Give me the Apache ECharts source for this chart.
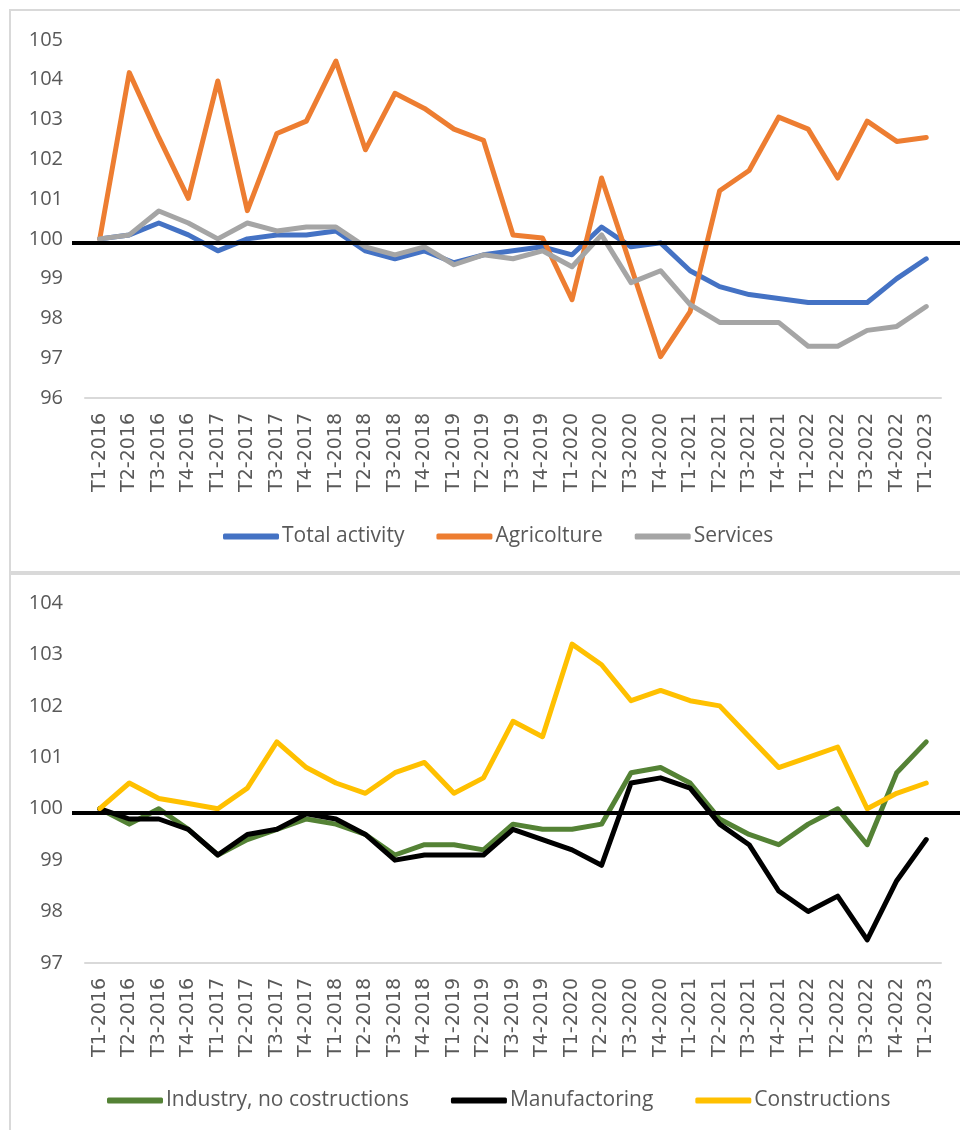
<!DOCTYPE html>
<html>
<head>
<meta charset="utf-8">
<script src="https://cdn.jsdelivr.net/npm/echarts@6/dist/echarts.min.js"></script>
<style>
html,body{margin:0;padding:0;background:#fff;}
#chart{width:960px;height:1130px;}
</style>
</head>
<body>
<div id="chart"></div>
<script>
const categories = ['T1-2016','T2-2016','T3-2016','T4-2016','T1-2017','T2-2017','T3-2017','T4-2017',
  'T1-2018','T2-2018','T3-2018','T4-2018','T1-2019','T2-2019','T3-2019','T4-2019',
  'T1-2020','T2-2020','T3-2020','T4-2020','T1-2021','T2-2021','T3-2021','T4-2021',
  'T1-2022','T2-2022','T3-2022','T4-2022','T1-2023'];

const totalActivity = [100,100.1,100.4,100.1,99.7,100.0,100.1,100.1,100.2,99.7,99.5,99.7,99.4,99.6,99.7,99.8,99.6,100.3,99.8,99.9,99.2,98.8,98.6,98.5,98.4,98.4,98.4,99.0,99.5];
const agricolture = [100,104.18,102.55,101.02,103.97,100.71,102.65,102.96,104.47,102.24,103.66,103.28,102.76,102.48,100.1,100.02,98.47,101.53,99.3,97.04,98.17,101.21,101.72,103.06,102.76,101.53,102.96,102.45,102.55];
const services = [100,100.1,100.7,100.4,100.0,100.4,100.2,100.3,100.3,99.8,99.6,99.8,99.35,99.6,99.5,99.7,99.3,100.1,98.9,99.2,98.35,97.9,97.9,97.9,97.3,97.3,97.7,97.8,98.3];

const industry = [100,99.7,100.0,99.6,99.1,99.4,99.6,99.8,99.7,99.5,99.1,99.3,99.3,99.2,99.7,99.6,99.6,99.7,100.7,100.8,100.5,99.8,99.5,99.3,99.7,100.0,99.3,100.7,101.3];
const manufactoring = [100,99.8,99.8,99.6,99.1,99.5,99.6,99.9,99.8,99.5,99.0,99.1,99.1,99.1,99.6,99.4,99.2,98.9,100.5,100.6,100.4,99.7,99.3,98.4,98.0,98.3,97.45,98.6,99.4];
const constructions = [100,100.5,100.2,100.1,100.0,100.4,101.3,100.8,100.5,100.3,100.7,100.9,100.3,100.6,101.7,101.4,103.2,102.8,102.1,102.3,102.1,102.0,101.4,100.8,101.0,101.2,100.0,100.3,100.5];

const topRefLevel = 99.91;
const bottomRefLevel = 99.92;

const chart = echarts.init(document.getElementById('chart'));
const txt = '#595959';

function xAxisFor(gi){
  return {
    type:'category', gridIndex:gi, data:categories, boundaryGap:true,
    axisLine:{show:true, lineStyle:{color:'#D9D9D9', width:2}},
    axisTick:{show:false},
    axisLabel:{interval:0, rotate:90, margin:15, color:txt, fontSize:19, fontFamily:'DejaVu Sans',
      formatter:'{a|{value}}', rich:{a:{color:txt, fontSize:19, fontFamily:'DejaVu Sans'}}},
    splitLine:{show:false}
  };
}
function yAxisFor(gi,min,max){
  return {
    type:'value', gridIndex:gi, min:min, max:max, interval:1,
    axisLine:{show:false}, axisTick:{show:false},
    splitLine:{show:false},
    axisLabel:{color:txt, fontSize:20, fontFamily:'Open Sans', margin:22}
  };
}
function lineSeries(name, data, color, gi){
  return {
    name:name, type:'line', xAxisIndex:gi, yAxisIndex:gi, data:data,
    showSymbol:false, symbol:'none', smooth:false, clip:false,
    lineStyle:{color:color, width:5, cap:'round', join:'round'},
    itemStyle:{color:color},
    emphasis:{disabled:true}
  };
}
function refLine(level){
  return {
    silent:true, symbol:'none', label:{show:false},
    lineStyle:{color:'#000', width:4, type:'solid'},
    emphasis:{disabled:true},
    data:[[{yAxis:level, x:72},{yAxis:level, x:962}]]
  };
}

const s1 = lineSeries('Total activity', totalActivity, '#4472C4', 0);
const s2 = lineSeries('Agricolture', agricolture, '#ED7D31', 0);
const s3 = lineSeries('Services', services, '#A5A5A5', 0);
s3.markLine = refLine(topRefLevel);
const b1 = lineSeries('Industry, no costructions', industry, '#548235', 1);
const b2 = lineSeries('Manufactoring', manufactoring, '#000000', 1);
const b3 = lineSeries('Constructions', constructions, '#FFC000', 1);
b3.markLine = refLine(bottomRefLevel);

const legendCommon = {
  orient:'horizontal', icon:'roundRect', itemWidth:56, itemHeight:6, itemGap:32,
  textStyle:{color:txt, fontSize:21, fontFamily:'Open Sans', padding:[0,0,0,-2]},
  selectedMode:false
};

chart.setOption({
  animation:false,
  backgroundColor:'#fff',
  graphic:[
    {type:'rect', shape:{x:10, y:10, width:960, height:562}, style:{fill:'none', stroke:'#D9D9D9', lineWidth:2}, silent:true, z:-1},
    {type:'rect', shape:{x:10, y:574, width:960, height:570}, style:{fill:'none', stroke:'#D9D9D9', lineWidth:2}, silent:true, z:-1}
  ],
  grid:[
    {left:85, right:19, top:40, height:358},
    {left:85, right:19, top:603, height:360}
  ],
  xAxis:[xAxisFor(0), xAxisFor(1)],
  yAxis:[yAxisFor(0,96,105), yAxisFor(1,97,104)],
  legend:[
    Object.assign({}, legendCommon, {left:218, top:521, data:['Total activity','Agricolture','Services']}),
    Object.assign({}, legendCommon, {left:102, top:1085, itemGap:42, data:['Industry, no costructions','Manufactoring','Constructions']})
  ],
  series:[s1,s2,s3,b1,b2,b3]
});
</script>
</body>
</html>
